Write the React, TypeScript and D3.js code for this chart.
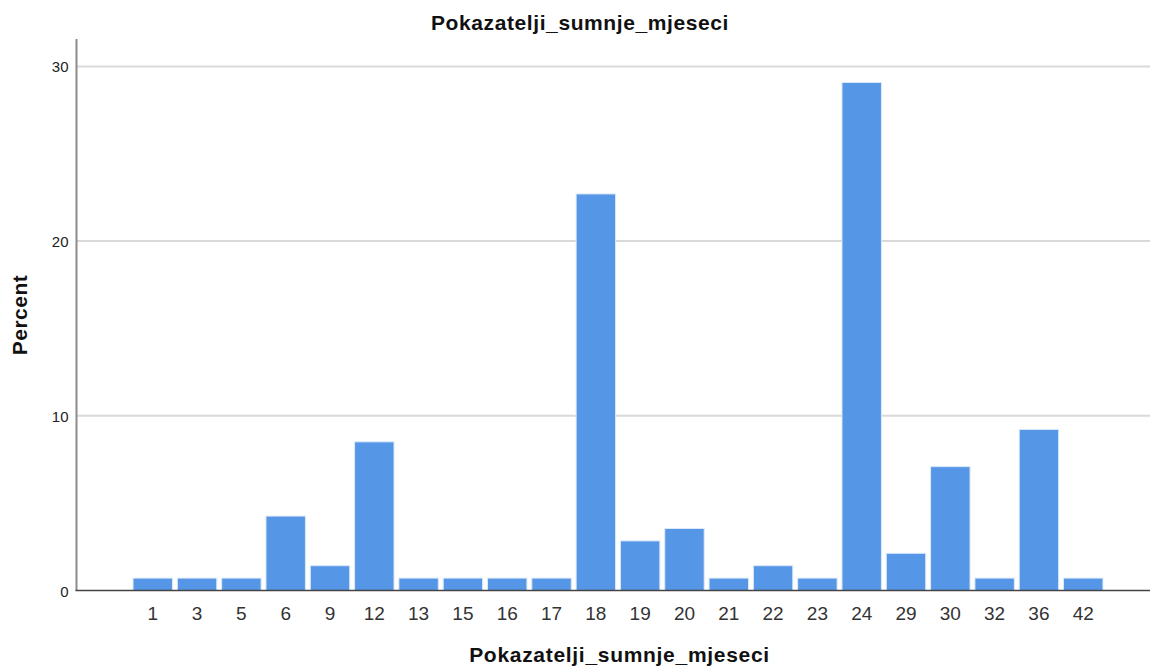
import React, { useEffect, useRef } from 'react'
import * as d3 from 'd3'

const categories = ['1', '3', '5', '6', '9', '12', '13', '15', '16', '17', '18', '19', '20', '21', '22', '23', '24', '29', '30', '32', '36', '42']
const percents = [0.71, 0.71, 0.71, 4.26, 1.42, 8.51, 0.71, 0.71, 0.71, 0.71, 22.7, 2.84, 3.55, 0.71, 1.42, 0.71, 29.08, 2.13, 7.09, 0.71, 9.22, 0.71]
const yTicks = [0, 10, 20, 30]

const W = 1150
const H = 670

export default function App() {
  const ref = useRef<SVGSVGElement>(null)

  useEffect(() => {
    const svg = d3.select(ref.current)
    svg.selectAll('*').remove()

    const left = 76.5, right = 1150, top = 39, bottom = 590.5

    const x = d3.scaleBand()
      .domain(categories)
      .range([130.6, 1105.4])
      .paddingInner(0.11)
      .paddingOuter(0.055)

    const y = d3.scaleLinear()
      .domain([0, 31.5])
      .range([bottom, bottom - 31.5 * 17.47])

    // gridlines
    svg.append('g')
      .selectAll('line')
      .data(yTicks.filter(t => t > 0))
      .enter()
      .append('line')
      .attr('x1', left)
      .attr('x2', right)
      .attr('y1', d => y(d))
      .attr('y2', d => y(d))
      .attr('stroke', '#d9d9d9')
      .attr('stroke-width', 2)

    // bars
    svg.append('g')
      .selectAll('rect')
      .data(percents)
      .enter()
      .append('rect')
      .attr('x', (d, i) => x(categories[i])!)
      .attr('width', x.bandwidth())
      .attr('y', d => y(d))
      .attr('height', d => bottom - y(d))
      .attr('fill', '#5596e6')
      .attr('stroke', '#dce9f9')
      .attr('stroke-width', 1)

    // axis lines
    svg.append('line')
      .attr('x1', left).attr('x2', left)
      .attr('y1', top).attr('y2', bottom)
      .attr('stroke', '#8c8c8c').attr('stroke-width', 2)
    svg.append('line')
      .attr('x1', left - 1).attr('x2', right)
      .attr('y1', bottom).attr('y2', bottom)
      .attr('stroke', '#444').attr('stroke-width', 1.5)

    // y tick labels
    svg.append('g')
      .selectAll('text')
      .data(yTicks)
      .enter()
      .append('text')
      .attr('x', 68.5)
      .attr('y', d => y(d) + 6)
      .attr('text-anchor', 'end')
      .attr('font-size', 15)
      .attr('fill', '#222')
      .text(d => d)

    // x tick labels
    svg.append('g')
      .selectAll('text')
      .data(categories)
      .enter()
      .append('text')
      .attr('x', d => x(d)! + x.bandwidth() / 2)
      .attr('y', 620)
      .attr('text-anchor', 'middle')
      .attr('font-size', 19)
      .attr('fill', '#333')
      .text(d => d)

    // titles
    svg.append('text')
      .attr('x', 580).attr('y', 30)
      .attr('text-anchor', 'middle')
      .attr('font-size', 21).attr('font-weight', 'bold')
      .attr('letter-spacing', 0.6)
      .attr('fill', '#111')
      .text('Pokazatelji_sumnje_mjeseci')
    svg.append('text')
      .attr('x', 619.5).attr('y', 662)
      .attr('text-anchor', 'middle')
      .attr('font-size', 21).attr('font-weight', 'bold')
      .attr('letter-spacing', 0.7)
      .attr('fill', '#111')
      .text('Pokazatelji_sumnje_mjeseci')
    svg.append('text')
      .attr('transform', 'translate(27,315) rotate(-90)')
      .attr('text-anchor', 'middle')
      .attr('font-size', 21).attr('font-weight', 'bold')
      .attr('letter-spacing', 0.5)
      .attr('fill', '#111')
      .text('Percent')
  }, [])

  return (
    <svg ref={ref} width={W} height={H}
      style={{ position: 'absolute', left: 0, top: 0, fontFamily: 'Liberation Sans, Arial, sans-serif', background: '#fff' }} />
  )
}
